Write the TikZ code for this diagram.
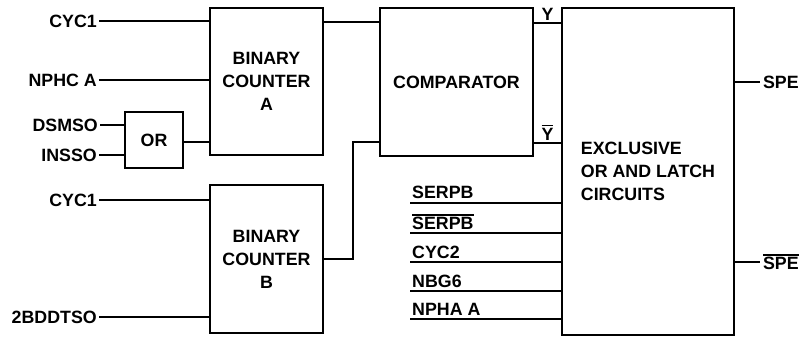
\documentclass[tikz,border=0pt]{standalone}
\usepackage{fontspec}
\setmainfont{Liberation Sans}
\usepackage{tikz}
\newsavebox{\barbox}
\newcommand{\barred}[1]{\sbox{\barbox}{#1}\rlap{\rule[\dimexpr\ht\barbox+1.6pt\relax]{\wd\barbox}{1.3pt}}\usebox{\barbox}}

\begin{document}
\begin{tikzpicture}[x=1pt,y=-1pt,
  font=\fontsize{17.8}{23}\selectfont\bfseries,
  blk/.style={draw,line width=2.4pt,inner sep=0pt,align=center},
  wire/.style={line width=1.8pt},
  lbl/.style={inner sep=2pt}]
\useasboundingbox (0,0) rectangle (799,338);
\node[blk,minimum width=113pt,minimum height=147pt] (cntA) at (266.5,81.5) {BINARY\\COUNTER\\A};
\node[blk,minimum width=58pt,minimum height=56pt] (orgate) at (154,140) {OR};
\node[blk,minimum width=113pt,minimum height=148pt] (cntB) at (266.5,259) {BINARY\\COUNTER\\B};
\node[blk,minimum width=153pt,minimum height=148pt] (cmp) at (456.5,82) {COMPARATOR};
\node[blk,minimum width=172pt,minimum height=327pt,align=left] (xorl) at (648,171.5) {EXCLUSIVE\\OR AND LATCH\\CIRCUITS};
\node[lbl,anchor=east] (cycA) at (99,21) {CYC1};
\node[lbl,anchor=east] (nphc) at (99,80) {NPHC A};
\node[lbl,anchor=east] (dsmso) at (100,125) {DSMSO};
\node[lbl,anchor=east] (insso) at (99,155) {INSSO};
\node[lbl,anchor=east] (cycB) at (99,200) {CYC1};
\node[lbl,anchor=east] (bddt) at (99,317) {2BDDTSO};
\draw[wire] (cycA) -- (cycA -| cntA.west);
\draw[wire] (nphc) -- (nphc -| cntA.west);
\draw[wire] (dsmso) -- (dsmso -| orgate.west);
\draw[wire] (insso) -- (insso -| orgate.west);
\draw[wire] (orgate.east |- 0,142) -- (cntA.west |- 0,142);
\draw[wire] (cycB) -- (cycB -| cntB.west);
\draw[wire] (bddt) -- (bddt -| cntB.west);
\draw[wire] (cntA.east |- 0,22) -- (cmp.west |- 0,22);
\draw[wire] (cntB.east) -- ++(29,0) |- (cmp.west |- 0,142);
\draw[wire] (cmp.east |- 0,23) -- node[lbl,above] (yout) {Y} (xorl.west |- 0,23);
\draw[wire] (cmp.east |- 0,143) -- node[lbl,above] (ybar) {\barred{Y}} (xorl.west |- 0,143);
\draw[wire] (xorl.east |- 0,82) -- ++(25,0) node[lbl,right] (spe) {SPE};
\draw[wire] (xorl.east |- 0,262) -- ++(25,0) node[lbl,right] (spebar) {\barred{SPE}};
\node[lbl,anchor=south west,inner ysep=4pt] (serpb) at (410,203) {SERPB};
\node[lbl,anchor=south west,inner ysep=3pt] (serpbbar) at (410,233) {\barred{SERPB}};
\node[lbl,anchor=south west,inner ysep=3pt] (cyc2) at (410,262) {CYC2};
\node[lbl,anchor=south west,inner ysep=3pt] (nbg6) at (410,291) {NBG6};
\node[lbl,anchor=south west,inner ysep=3pt] (npha) at (410,319) {NPHA A};
\draw[wire] (serpb.south west) -- (serpb.south west -| xorl.west);
\draw[wire] (serpbbar.south west) -- (serpbbar.south west -| xorl.west);
\draw[wire] (cyc2.south west) -- (cyc2.south west -| xorl.west);
\draw[wire] (nbg6.south west) -- (nbg6.south west -| xorl.west);
\draw[wire] (npha.south west) -- (npha.south west -| xorl.west);
\end{tikzpicture}
\end{document}
